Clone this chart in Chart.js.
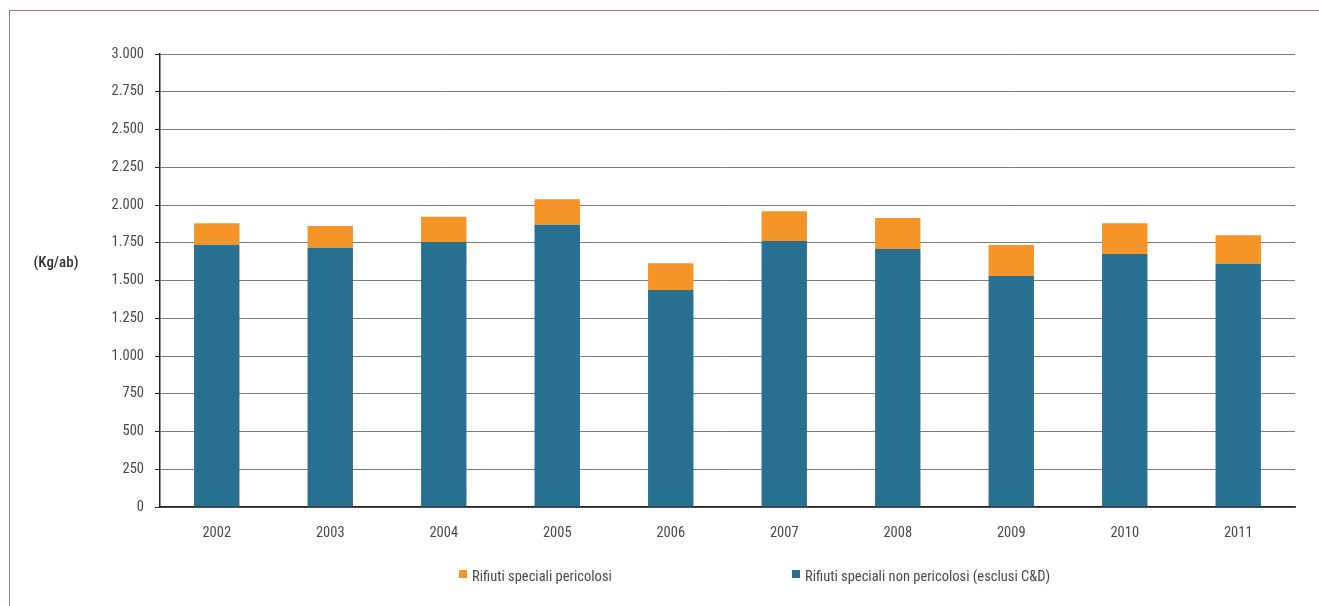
<!DOCTYPE html>
<html>
<head>
<meta charset="utf-8">
<script src="https://cdn.jsdelivr.net/npm/chart.js@4/dist/chart.umd.min.js"></script>
<style>
  html, body { margin: 0; padding: 0; background: #fff; }
  #frame {
    position: absolute; left: 9px; top: 10px; width: 1310px; height: 596px;
    border-top: 1px solid #9c7a7e; border-left: 1px solid #9c7a7e;
  }
  #wrap { position: absolute; left: 0; top: 0; width: 1319px; height: 606px; }
</style>
</head>
<body>
<div id="frame"></div>
<div id="wrap"><canvas id="chart" width="1319" height="606"></canvas></div>
<script>
const years = ['2002', '2003', '2004', '2005', '2006', '2007', '2008', '2009', '2010', '2011'];
const nonPericolosi = [1737, 1717, 1755, 1870, 1437, 1762, 1709, 1530, 1676, 1611];
const pericolosi = [142, 144, 168, 168, 177, 196, 205, 205, 203, 189];
const yTicks = [0, 250, 500, 750, 1000, 1250, 1500, 1750, 2000, 2250, 2500, 2750, 3000];
const unitLabel = '(Kg/ab)';

const FONT = '"Roboto Condensed", "Liberation Sans Narrow", sans-serif';
const TEXT = '#4a4a4a';

// y-axis unit label, horizontal at the left
const unitPlugin = {
  id: 'unitLabel',
  afterDraw(chart) {
    const { ctx } = chart;
    ctx.save();
    ctx.font = '500 15px ' + FONT;
    ctx.fillStyle = '#333';
    ctx.textAlign = 'center';
    ctx.textBaseline = 'middle';
    ctx.fillText(unitLabel, 56, chart.scales.y.getPixelForValue(1615));
    ctx.restore();
  }
};

// legend drawn by hand so the two items can sit far apart
const legendPlugin = {
  id: 'wideLegend',
  afterDraw(chart) {
    const { ctx } = chart;
    const ds = chart.data.datasets;
    const items = [ds[1], ds[0]];
    const xs = [459, 792];
    ctx.save();
    ctx.font = '14.5px ' + FONT;
    ctx.textBaseline = 'middle';
    items.forEach((d, i) => {
      ctx.fillStyle = d.backgroundColor;
      ctx.fillRect(xs[i], 570, 8, 8);
      ctx.fillStyle = TEXT;
      ctx.fillText(d.label, xs[i] + 13, 577);
    });
    ctx.restore();
  }
};

new Chart(document.getElementById('chart'), {
  type: 'bar',
  data: {
    labels: years,
    datasets: [
      {
        label: 'Rifiuti speciali non pericolosi (esclusi C&D)',
        data: nonPericolosi,
        backgroundColor: '#27708f',
        borderWidth: 0,
        barPercentage: 0.5,
        categoryPercentage: 0.8,
      },
      {
        label: 'Rifiuti speciali pericolosi',
        data: pericolosi,
        backgroundColor: '#f59528',
        borderWidth: 0,
        barPercentage: 0.5,
        categoryPercentage: 0.8,
      },
    ],
  },
  options: {
    responsive: false,
    animation: false,
    layout: { padding: { top: 54, left: 0, right: 24, bottom: 0 } },
    plugins: {
      tooltip: { enabled: false },
      legend: { display: false },
    },
    scales: {
      x: {
        stacked: true,
        grid: { display: false, drawTicks: false },
        border: { color: '#222', width: 1.5 },
        ticks: { color: TEXT, font: { family: FONT, size: 14.5 }, padding: 18 },
        afterFit: s => { s.height = 99; },
      },
      y: {
        stacked: true,
        min: 0,
        max: 3000,
        afterFit: s => { s.width = 160; },
        afterBuildTicks: s => { s.ticks = yTicks.map(v => ({ value: v })); },
        grid: { color: '#7c7c7c', lineWidth: 1, tickLength: 5, tickColor: '#222' },
        border: { color: '#222', width: 1.5 },
        ticks: {
          color: TEXT,
          font: { family: FONT, size: 14.5 },
          padding: 11,
          callback: v => v.toLocaleString('it-IT'),
        },
      },
    },
  },
  plugins: [unitPlugin, legendPlugin],
});
</script>
</body>
</html>
